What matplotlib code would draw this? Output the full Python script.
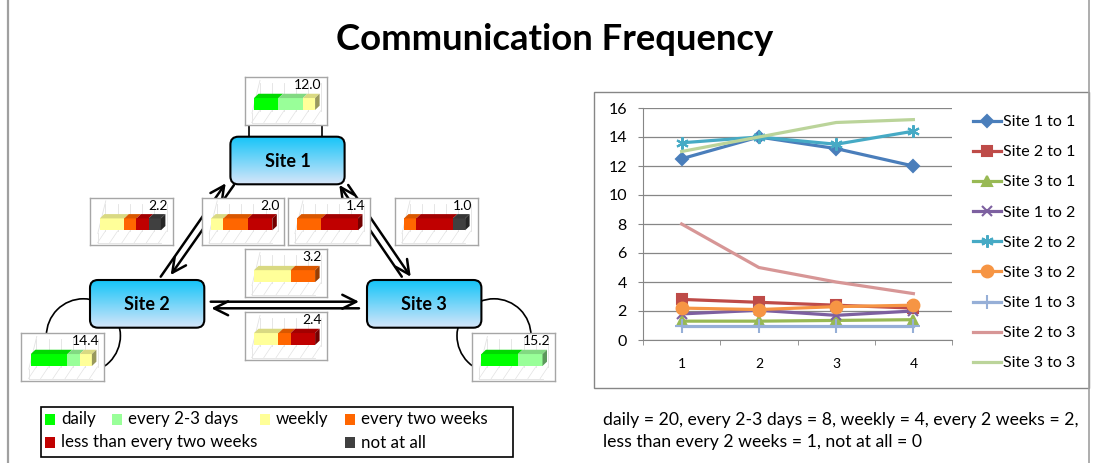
import matplotlib
matplotlib.use('Agg')
import matplotlib.pyplot as plt
import numpy as np
import matplotlib.colors as mcolors
from matplotlib.patches import Rectangle, FancyBboxPatch, Polygon, Circle
from matplotlib.lines import Line2D

plt.rcParams['font.family'] = ['Lato', 'DejaVu Sans']

# ---------------- data ----------------
categories = ['daily', 'every 2-3 days', 'weekly', 'every two weeks',
              'less than every two weeks', 'not at all']
cat_colors = ['#00FF00', '#99FF99', '#FFFF99', '#FF6600', '#C00000', '#404040']
weights = [20, 8, 4, 2, 1, 0]

# share of responses per frequency category (latest round)
share_1to1 = [0.4, 0.4, 0.2, 0.0, 0.0, 0.0]
share_2to1 = [0.0, 0.0, 0.4, 0.2, 0.2, 0.2]
share_3to1 = [0.0, 0.0, 0.0, 0.4, 0.6, 0.0]
share_1to2 = [0.0, 0.0, 0.2, 0.4, 0.4, 0.0]
share_2to2 = [0.6, 0.2, 0.2, 0.0, 0.0, 0.0]
share_3to2 = [0.0, 0.0, 0.4, 0.2, 0.4, 0.0]
share_1to3 = [0.0, 0.0, 0.0, 0.2, 0.6, 0.2]
share_2to3 = [0.0, 0.0, 0.6, 0.4, 0.0, 0.0]
share_3to3 = [0.6, 0.4, 0.0, 0.0, 0.0, 0.0]

rounds = [1, 2, 3, 4]
series_names = ['Site 1 to 1', 'Site 2 to 1', 'Site 3 to 1', 'Site 1 to 2',
                'Site 2 to 2', 'Site 3 to 2', 'Site 1 to 3', 'Site 2 to 3',
                'Site 3 to 3']
site1_to_1 = [12.5, 14.0, 13.2, 12.0]
site2_to_1 = [2.8, 2.6, 2.4, 2.2]
site3_to_1 = [1.3, 1.3, 1.35, 1.4]
site1_to_2 = [1.8, 2.05, 1.7, 2.0]
site2_to_2 = [13.6, 14.0, 13.5, 14.4]
site3_to_2 = [2.2, 2.1, 2.3, 2.4]
site1_to_3 = [1.0, 1.0, 1.0, 1.0]
site2_to_3 = [8.0, 5.0, 4.0, 3.2]
site3_to_3 = [13.0, 14.0, 15.0, 15.2]

note_lines = ['daily = 20, every 2-3 days = 8, weekly = 4, every 2 weeks = 2,',
              'less than every 2 weeks = 1, not at all = 0']

# ---------------- figure ----------------
W, H = 1094, 463
fig = plt.figure(figsize=(W / 100, H / 100), dpi=100)
ax = fig.add_axes([0, 0, 1, 1])
ax.set_xlim(0, W)
ax.set_ylim(H, 0)
ax.axis('off')

# outer frame
ax.add_line(Line2D([7.5, 7.5], [0, H], color='#A0A0A0', lw=1.6))
ax.add_line(Line2D([1088.5, 1088.5], [0, H], color='#A0A0A0', lw=1.2))

ax.text(555, 40, 'Communication Frequency', ha='center', va='center',
        fontsize=26.3, fontweight='bold')

# self loops
ax.add_patch(Circle((83.4, 335.8), 37, fill=False, ec='black', lw=1.2, zorder=1))
ax.add_patch(Circle((494, 335.8), 37, fill=False, ec='black', lw=1.2, zorder=1))
ax.add_line(Line2D([249, 249], [110, 137], color='black', lw=1.2, zorder=1))
ax.add_line(Line2D([321.5, 321.5], [110, 137], color='black', lw=1.2, zorder=1))

# site boxes with gradient
grad = np.linspace(0, 1, 100)[:, None]
top_c = np.array(mcolors.to_rgb('#14C4F8'))
bot_c = np.array(mcolors.to_rgb('#D6E6FA'))
grad_img = top_c[None, None, :] * (1 - grad[:, :, None]) + bot_c[None, None, :] * grad[:, :, None]
sites = [('Site 1', (230.4, 136.7, 344.6, 184.3)),
         ('Site 2', (90.0, 280.0, 204.3, 327.7)),
         ('Site 3', (367.0, 280.0, 481.4, 327.7))]
for name, (x0, y0, x1, y1) in sites:
    p = FancyBboxPatch((x0, y0), x1 - x0, y1 - y0,
                       boxstyle='round,pad=0,rounding_size=8',
                       fc='none', ec='black', lw=1.5, zorder=4)
    ax.add_patch(p)
    im = ax.imshow(grad_img, extent=(x0, x1, y1, y0), origin='upper',
                   aspect='auto', zorder=3)
    im.set_clip_path(p)
    ax.text((x0 + x1) / 2, (y0 + y1) / 2 + 1, name, ha='center', va='center',
            fontsize=13, fontweight='bold', zorder=5)
ax.set_xlim(0, W)
ax.set_ylim(H, 0)

# arrows
arrow_style = '->,head_length=1.0,head_width=0.5'
arrows = [((160.7, 276.7), (225.7, 183.3)),
          ((234.0, 185.0), (170.7, 275.0)),
          ((401.8, 276.7), (339.3, 185.0)),
          ((348.2, 185.0), (410.7, 276.7)),
          ((210.7, 301.7), (359.0, 301.7)),
          ((359.0, 308.3), (211.4, 308.3))]
for tail, tip in arrows:
    ax.annotate('', xy=tip, xytext=tail,
                arrowprops=dict(arrowstyle=arrow_style, lw=1.8, color='black',
                                shrinkA=0, shrinkB=0), zorder=2)

# legend (bottom-left)
ax.add_patch(Rectangle((41, 407.3), 472, 49.4, fill=False, ec='black', lw=1.2))
leg_pos = [(45, 419), (111.7, 419), (260, 419), (345, 419), (45, 442.5), (345, 442.5)]
for (lx, ly), cat, col in zip(leg_pos, categories, cat_colors):
    ax.add_patch(Rectangle((lx, ly - 5.5), 10, 11, fc=col, ec='none'))
    ax.text(lx + 16, ly, cat, ha='left', va='center', fontsize=12.2)

for i, line in enumerate(note_lines):
    ax.text(603, 420 + 22.5 * i, line, ha='left', va='center', fontsize=12.7)

# line chart frame
ax.add_patch(Rectangle((594, 92), 495, 296, fill=False, ec='#868686', lw=1))


def shade(c, f):
    return tuple(np.clip(np.array(mcolors.to_rgb(c)) * f, 0, 1))


def mini_chart(box, shares):
    x0, y0, x1, y1 = box
    bw, bh = x1 - x0, y1 - y0
    m = fig.add_axes([x0 / W, 1 - y1 / H, bw / W, bh / H])
    px = 1 / 61.1
    xmin = -9.4 * px
    m.set_xlim(xmin, xmin + bw * px)
    m.set_ylim(0, 1)
    m.set_xticks([])
    m.set_yticks([])
    for s in m.spines.values():
        s.set_color('#A6A6A6')
        s.set_linewidth(1)
    gc = '#E2E2E2'
    dxw = 5.6 * px
    fl_front, fl_back, wall_top = 0.05, 0.30, 0.875
    for k in range(6):
        xv = k * 0.2 + dxw
        m.add_line(Line2D([xv, xv], [fl_back, wall_top], color=gc, lw=0.6))
        m.add_line(Line2D([xv - 8 * px, xv], [fl_front, fl_back], color=gc, lw=0.5))
    m.add_line(Line2D([-2 * px, -2 * px + 8 * px], [0.25, wall_top + 0.06], color=gc, lw=0.6))
    m.add_line(Line2D([-2 * px, -2 * px], [fl_front, 0.25], color=gc, lw=0.6))
    m.add_line(Line2D([-2 * px, 1.0], [fl_front, fl_front], color=gc, lw=0.6))
    lefts = np.concatenate([[0], np.cumsum(shares)[:-1]])
    bars = m.barh(np.full(len(shares), 0.44), shares, left=lefts, height=0.25,
                  color=cat_colors, edgecolor='none', zorder=3)
    dx = 4.5 * px
    dy = 4.3 / bh
    last = None
    for rect, col, sh in zip(bars.patches, cat_colors, shares):
        if sh <= 0:
            continue
        bx, by, w, h = rect.get_x(), rect.get_y(), rect.get_width(), rect.get_height()
        m.add_patch(Polygon([(bx, by + h), (bx + w, by + h), (bx + w + dx, by + h + dy),
                             (bx + dx, by + h + dy)], closed=True,
                            fc=shade(col, 0.85), ec='none', zorder=3))
        last = (rect, col)
    if last is not None:
        rect, col = last
        bx, by, w, h = rect.get_x(), rect.get_y(), rect.get_width(), rect.get_height()
        m.add_patch(Polygon([(bx + w, by), (bx + w + dx, by + dy), (bx + w + dx, by + h + dy),
                             (bx + w, by + h)], closed=True,
                            fc=shade(col, 0.6), ec='none', zorder=3))
    val = sum(s * wt for s, wt in zip(shares, weights))
    m.text(1 - 5.0 / bw, 1 - 2.0 / bh, f'{val:.1f}', transform=m.transAxes,
           ha='right', va='top', fontsize=10)


mini_chart((244.6, 77.3, 326.8, 125.0), share_1to1)
mini_chart((90.4, 197.7, 173.2, 245.3), share_2to1)
mini_chart((201.8, 197.7, 284.3, 245.3), share_1to2)
mini_chart((287.5, 197.7, 370.0, 245.3), share_3to1)
mini_chart((394.6, 197.7, 477.5, 245.3), share_1to3)
mini_chart((244.6, 249.3, 326.8, 297.3), share_2to3)
mini_chart((244.6, 312.3, 326.8, 360.0), share_3to2)
mini_chart((21.4, 333.3, 104.3, 381.0), share_2to2)
mini_chart((472.0, 333.3, 555.4, 381.0), share_3to3)

# ---------------- line chart ----------------
lax = fig.add_axes([643 / W, 1 - 340 / H, 309 / W, 232 / H])
series_vals = [site1_to_1, site2_to_1, site3_to_1, site1_to_2, site2_to_2,
               site3_to_2, site1_to_3, site2_to_3, site3_to_3]
series_colors = ['#4A7EBB', '#BE4B48', '#98B954', '#7D60A0', '#46AAC5',
                 '#F69544', '#96AFD7', '#D79696', '#BBD49A']
series_markers = ['D', 's', '^', 'x', (6, 2, 0), 'o', '+', None, None]
series_ms = [6, 7, 7.5, 7, 9, 8.5, 10, 0, 0]
for name, vals, col, mk, ms in zip(series_names, series_vals, series_colors,
                                   series_markers, series_ms):
    lax.plot(rounds, vals, color=col, lw=2.3, marker=mk, ms=ms, mew=1.5,
             label=name, clip_on=False)
lax.set_xlim(0.5, 4.5)
lax.set_ylim(0, 16)
lax.set_yticks(range(0, 17, 2))
lax.set_xticks(rounds)
lax.set_xticks([0.5, 1.5, 2.5, 3.5, 4.5], minor=True)
lax.grid(axis='y', color='#868686', lw=0.9)
lax.set_axisbelow(True)
for s in ['top', 'right']:
    lax.spines[s].set_visible(False)
for s in ['left', 'bottom']:
    lax.spines[s].set_color('#868686')
lax.tick_params(axis='y', length=3.6, color='#868686', pad=8.0, labelsize=11.5)
lax.tick_params(axis='x', which='major', length=0, pad=13, labelsize=10)
lax.tick_params(axis='x', which='minor', length=3.6, color='#868686')
lax.set_facecolor('none')

leg = lax.legend(loc='upper left', bbox_to_anchor=(973 / W, 1 - 115 / H),
                 bbox_transform=fig.transFigure, frameon=False, fontsize=11.5,
                 handlelength=1.75, handletextpad=0.15, labelspacing=1.0,
                 borderpad=0, borderaxespad=0)

fig.savefig('out.png', dpi=100)
